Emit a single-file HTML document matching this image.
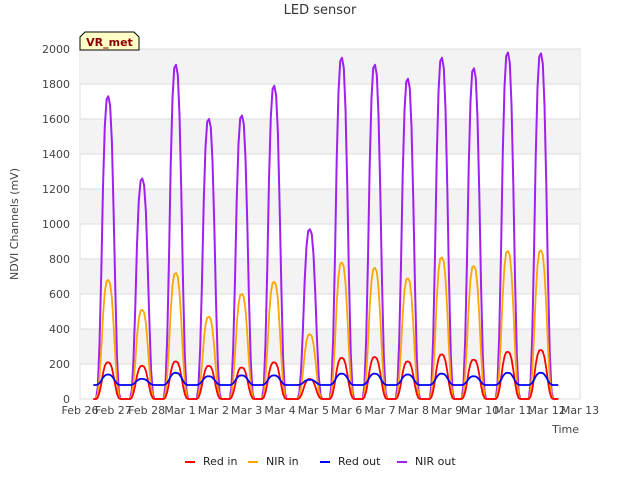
<!DOCTYPE html>
<html><head><meta charset="utf-8"><style>
body{margin:0;background:#fff;}
svg{font-family:"DejaVu Sans","Liberation Sans",sans-serif;}
</style></head><body>
<svg id="chart" width="640" height="480" xmlns="http://www.w3.org/2000/svg">
<text x="320" y="14" text-anchor="middle" font-size="13" fill="#333">LED sensor</text>
<g id="bands"></g><g id="grid"></g><g id="series"></g><g id="axes"></g>
<text transform="translate(18,224) rotate(-90)" text-anchor="middle" font-size="11" fill="#444">NDVI Channels (mV)</text>
<text x="579" y="433" text-anchor="end" font-size="11" fill="#444">Time</text>
<g>
<path d="M80,37 L85,32 L134,32 L139,37 L139,50 L80,50 Z" fill="#ffffc8" stroke="#000" stroke-width="1"/>
<text x="109.5" y="46" text-anchor="middle" font-size="11" font-weight="bold" fill="#8b0000">VR_met</text>
</g>
<g id="legend"></g>
</svg>
<script>
const dayLabels=["Feb 26","Feb 27","Feb 28","Mar 1","Mar 2","Mar 3","Mar 4","Mar 5","Mar 6","Mar 7","Mar 8","Mar 9","Mar 10","Mar 11","Mar 12","Mar 13"];
const yTicks=[0,200,400,600,800,1000,1200,1400,1600,1800,2000];
const peakDays=[0.85,1.87,2.88,3.87,4.86,5.83,6.9,7.86,8.85,9.84,10.86,11.82,12.84,13.83];
const nirOutPeaks=[1730,1260,1910,1600,1620,1790,970,1950,1910,1830,1950,1890,1980,1975];
const nirInPeaks=[680,510,720,470,600,670,370,780,750,690,810,760,845,850];
const redInPeaks=[210,190,215,190,180,210,115,235,240,215,255,225,270,280];
const redOutPeaks=[140,115,150,130,135,135,110,145,145,140,145,130,150,150];
const redOutBase=[80];
const profile=[0,0.04,0.18,0.42,0.7,0.9,0.99,1,0.97,0.85,0.62,0.35,0.13,0.02,0];
const dataRange=[0.4,14.35];
const NS="http://www.w3.org/2000/svg";
const X0=80,X1=580,Y0=399,Y1=49;
const xs=d=>X0+(X1-X0)*d/15;
const ys=v=>Y0-(Y0-Y1)*v/2000;
function mk(tag,attrs,parent){const e=document.createElementNS(NS,tag);for(const k in attrs)e.setAttribute(k,attrs[k]);parent.appendChild(e);return e;}
const bands=document.getElementById('bands'),grid=document.getElementById('grid'),axes=document.getElementById('axes'),ser=document.getElementById('series'),leg=document.getElementById('legend');
mk('rect',{x:X0,y:Y1,width:X1-X0,height:Y0-Y1,fill:'#fff',stroke:'#ddd'},bands);
for(let v=200;v<2000;v+=400){const r=mk('rect',{x:X0,y:ys(v+200),width:X1-X0,height:ys(v)-ys(v+200),fill:'#f3f3f3'},bands);

}
yTicks.forEach(v=>{const l=mk('line',{x1:X0,x2:X1,y1:ys(v),y2:ys(v),stroke:'#ddd'},grid);


const t=mk('text',{x:X0-10,y:ys(v)+4,'text-anchor':'end','font-size':11,fill:'#444'},axes);t.textContent=v;

});
dayLabels.forEach((s,i)=>{const t=mk('text',{x:xs(i),y:414,'text-anchor':'middle','font-size':11,fill:'#444'},axes);t.textContent=s;

});
const halfW=0.37;
function buildPts(peaks,base){const pts=[[dataRange[0],base]];
peaks.forEach((p,i)=>{const c=peakDays[i];const n=profile.length;
profile.forEach((f,k)=>{const d=c-halfW+2*halfW*k/(n-1);pts.push([d,base+(p-base)*f]);});});
pts.push([dataRange[1],base]);return pts;}
function draw(peaks,base,color,name,w){const pts=buildPts(peaks,base);
const p=mk('polyline',{points:pts.map(q=>xs(q[0]).toFixed(1)+','+ys(q[1]).toFixed(1)).join(' '),fill:'none',stroke:color,'stroke-width':w,'stroke-linejoin':'round'},ser);

}
draw(nirOutPeaks,0,'#a020f0','nir-out-line',2);
draw(nirInPeaks,0,'#ffa500','nir-in-line',1.8);
draw(redInPeaks,0,'#ff0000','red-in-line',1.8);
draw(redOutPeaks,redOutBase[0],'#0000ff','red-out-line',1.8);
const legItems=[["Red in","#ff0000",185],["NIR in","#ffa500",248],["Red out","#0000ff",320],["NIR out","#a020f0",397]];
legItems.forEach(it=>{const g=mk('g',{},leg);


mk('line',{x1:it[2],x2:it[2]+10,y1:462,y2:462,stroke:it[1],'stroke-width':2},g);
const t=mk('text',{x:it[2]+18,y:465,'font-size':11,fill:'#222'},g);t.textContent=it[0];});
</script>
</body></html>
